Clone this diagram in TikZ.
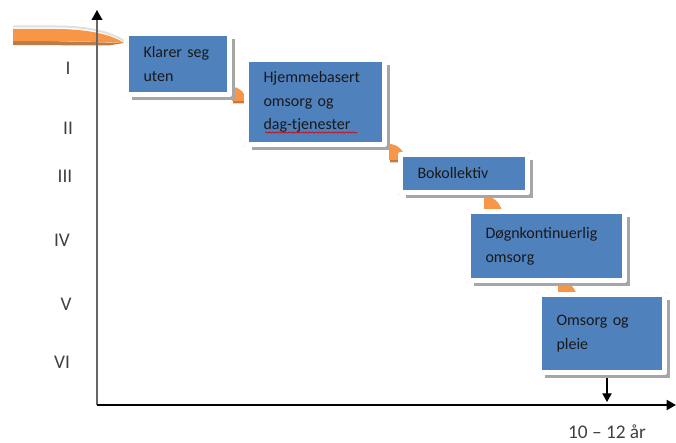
\documentclass[tikz,border=0pt]{standalone}
\usepackage{fontspec}
\setmainfont{Carlito}
\usetikzlibrary{arrows.meta,shadows,decorations.pathmorphing}
\definecolor{stepblue}{HTML}{4F81BD}
\definecolor{steporange}{HTML}{F79646}
\definecolor{stepbrown}{HTML}{BF7B45}
\begin{document}
\begin{tikzpicture}[x=0.75pt,y=0.75pt,line join=round,
  stage/.style={fill=stepblue,draw=black!20,double=white,double distance=3.6pt,line width=0.35pt,
    drop shadow={shadow xshift=4pt,shadow yshift=-4pt,fill=black!35,opacity=1},
    inner xsep=12.75pt,inner ysep=0pt,align=left,text=black!90,
    font=\fontsize{12}{17.8}\selectfont},
  level/.style={text=black!75,font=\fontsize{14.5}{16}\selectfont},
  stepbend/.style={fill=steporange},
  stepshade/.style={fill=stepbrown}]
\useasboundingbox (0,0) rectangle (676,443);
\draw[black!12,line width=1.5pt] (13,416.5) -- (55,416.5) .. controls (92,416.5) and (112,410) .. (126,401);
\fill[stepshade] (13,398) -- (13,403) -- (124,400) -- (108,397.5) -- cycle;
\fill[stepbend] (13,414) -- (55,414) .. controls (90,414) and (112,408) .. (124,400)
   .. controls (90,401.5) .. (13,402) -- cycle;
\coordinate (O) at (97,38);
\coordinate (ytop) at (97,433);
\coordinate (xend) at (676,38);
\coordinate (d0) at (607,66);
\coordinate (d1) at (607,41);
\draw[black!60,line width=1.1pt,-{Triangle[width=8pt,length=7.5pt,color=black]}] (O) -- (ytop);
\draw[black,line width=1.4pt,-{Triangle[width=7.5pt,length=7pt]}] (O) -- (xend);
\draw[black,line width=0.9pt,-{Triangle[width=7pt,length=6.5pt]}] (d0) -- (d1);
\foreach \cx/\cy/\r in {232/342/14,389/283/16,484/229/18,558/144/19}{
  \fill[stepshade] (\cx+1,\cy-2.5) -- ++(\r,0) arc (0:90:\r) -- cycle;
  \fill[stepbend] (\cx,\cy) -- ++(\r,0) arc (0:90:\r) -- cycle;
}
\node[stage,minimum width=77.25pt,minimum height=45.75pt,text width=51.75pt] (s1) at (178,379) {Klarer seg\\uten};
\node[stage,minimum width=103.5pt,minimum height=63.75pt,text width=78pt] (s2) at (315.5,341) {Hjemmebasert\\omsorg og\\dag-tjenester};
\node[stage,minimum width=95.25pt,minimum height=28.5pt,text width=69.75pt] (s3) at (464,269.5) {Bokollektiv};
\node[stage,minimum width=117pt,minimum height=51.75pt,text width=91.5pt] (s4) at (546.5,197) {Døgnkontinuerlig\\omsorg};
\node[stage,minimum width=93.75pt,minimum height=58.5pt,text width=68.25pt] (s5) at (602,109.5) {Omsorg og\\pleie\\[-9pt]};
\draw[red!85!black,line width=0.5pt,decorate,decoration={snake,amplitude=0.5pt,segment length=2.5pt}] (265,310.5) -- (357,310.5);
\node[level] (r1) at (68,375) {I};
\node[level] (r2) at (68,315) {II};
\node[level] (r3) at (65,267) {III};
\node[level] (r4) at (62,203) {IV};
\node[level] (r5) at (66,139) {V};
\node[level] (r6) at (62,81) {VI};
\node[level] (xl) at (607,11) {10 \textendash{} 12 år};
\end{tikzpicture}
\end{document}
